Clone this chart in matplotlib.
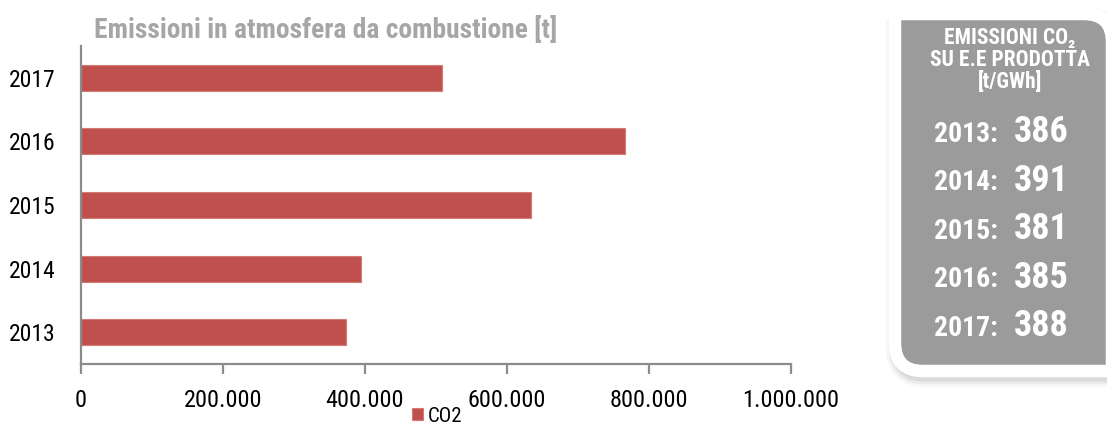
import matplotlib
matplotlib.use("Agg")
import matplotlib.pyplot as plt
from matplotlib.path import Path
from matplotlib.patches import PathPatch

plt.rcParams['font.family'] = ['Roboto Condensed', 'DejaVu Sans']

# data
years = ['2013', '2014', '2015', '2016', '2017']
co2_t = [373000, 394000, 634000, 766000, 508000]
x_ticks = [0, 200000, 400000, 600000, 800000, 1000000]
x_labels = ['0', '200.000', '400.000', '600.000', '800.000', '1.000.000']
box_years = ['2013', '2014', '2015', '2016', '2017']
box_values = ['386', '391', '381', '385', '388']

W, H = 1107, 425
fig = plt.figure(figsize=(W / 100, H / 100), dpi=100)

ax = fig.add_axes([81 / W, 1 - 364 / H, 710 / W, 318 / H])
ax.barh(range(len(years)), co2_t, height=0.41, color='#c0504d',
        edgecolor='#d47a77', linewidth=0.8, label='CO2')
ax.set_xlim(0, 1000000)
ax.set_ylim(-0.5, len(years) - 0.5)
ax.set_yticks(range(len(years)))
ax.set_yticklabels(years)
ax.set_xticks(x_ticks)
ax.set_xticklabels(x_labels)
for s in ['top', 'right']:
    ax.spines[s].set_visible(False)
for s in ['left', 'bottom']:
    ax.spines[s].set_color('#8c8c8c')
    ax.spines[s].set_linewidth(1.6)
ax.tick_params(axis='y', length=0, pad=18, labelsize=17)
ax.tick_params(axis='x', length=7, width=1.6, color='#8c8c8c',
               pad=11, labelsize=17.5)

fig.text(326 / W, 1 - 30 / H, 'Emissioni in atmosfera da combustione [t]',
         ha='center', va='center', fontsize=19.8, fontweight='bold',
         color='#a6a6a6')

fig.legend(loc='center', bbox_to_anchor=(437 / W, 1 - 416 / H),
           frameon=False, fontsize=15, handlelength=0.55, handleheight=0.55,
           handletextpad=0.2, borderpad=0)

# side box, drawn in pixel coordinates
ov = fig.add_axes([0, 0, 1, 1])
ov.set_xlim(0, W)
ov.set_ylim(H, 0)
ov.axis('off')

x0, x1, y0, y1, r = 895, 1112, 14, 371, 28
verts = [(x0, y0), (x1 - r, y0), (x1, y0), (x1, y0 + r),
         (x1, y1), (x0 + r, y1), (x0, y1), (x0, y1 - r), (x0, y0), (x0, y0)]
codes = [Path.MOVETO, Path.LINETO, Path.CURVE3, Path.CURVE3,
         Path.LINETO, Path.LINETO, Path.CURVE3, Path.CURVE3,
         Path.LINETO, Path.CLOSEPOLY]
box_path = Path(verts, codes)
shadow_path = Path([(vx + 2, vy + 5) for vx, vy in verts], codes)
for lw, a in [(16, 0.03), (12, 0.05), (8, 0.07)]:
    ov.add_patch(PathPatch(shadow_path, facecolor='none', edgecolor='black',
                           linewidth=lw, alpha=a))
ov.add_patch(PathPatch(box_path, facecolor='#9b9b9b', edgecolor='white',
                       linewidth=9))

head = ['EMISSIONI CO₂', 'SU E.E PRODOTTA', '[t/GWh]']
for i, t in enumerate(head):
    ov.text(1010, 38 + i * 22, t, ha='center', va='center', color='white',
            fontsize=15.5, fontweight='bold')

for i, (yr, v) in enumerate(zip(box_years, box_values)):
    yy = 132 + i * 48.5
    ov.text(998, yy + 2, yr + ':', ha='right', va='center', color='white',
            fontsize=20, fontweight='bold')
    ov.text(1014, yy, v, ha='left', va='center', color='white',
            fontsize=26, fontweight='bold')

fig.savefig('out.png', dpi=100)
